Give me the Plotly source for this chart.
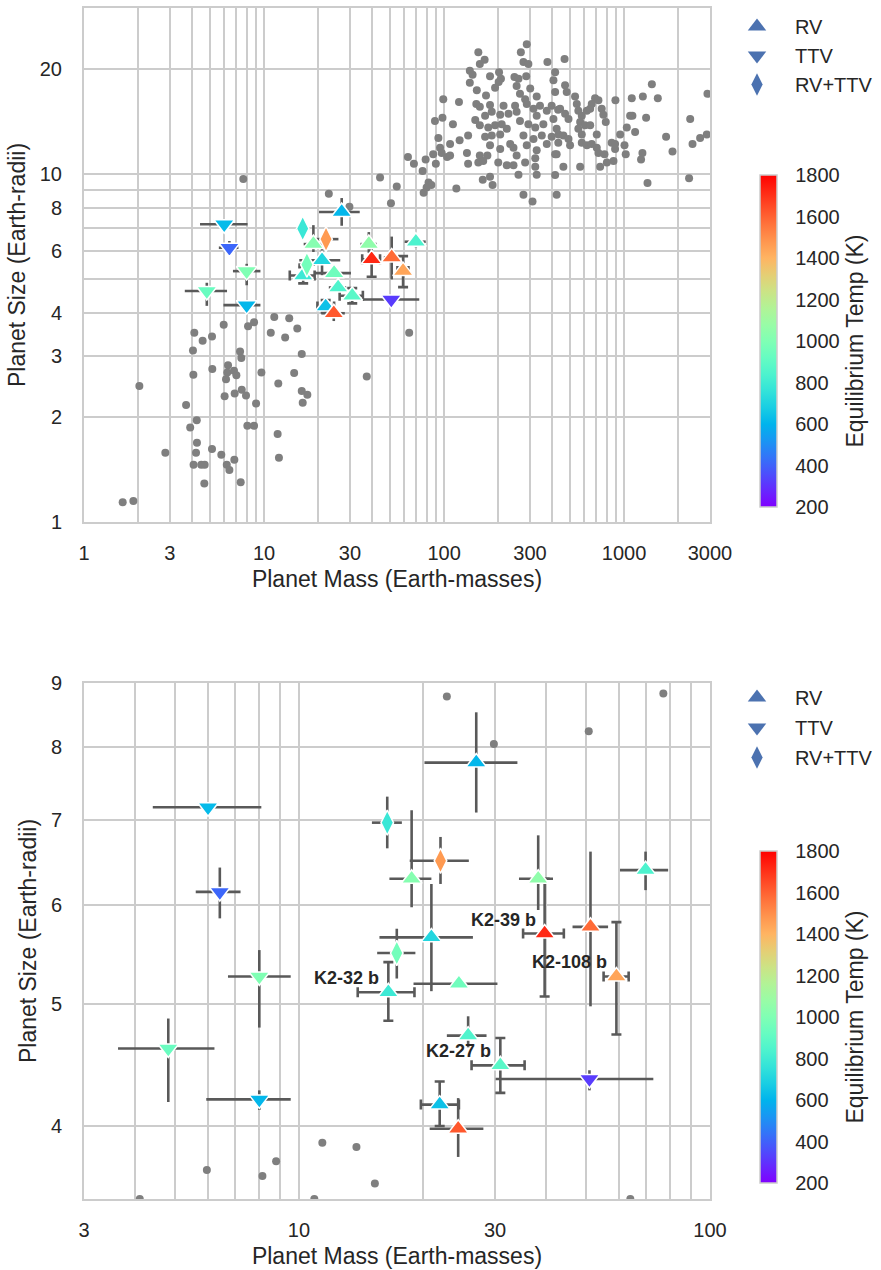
import math
import plotly.graph_objects as go

# ---------------- data ----------------
# background exoplanets (mass in Earth masses, radius in Earth radii)
bg_mass = [
    7.67, 5.97, 8.15, 8.8, 4.1, 5.14, 4.56, 4.03, 7.36, 7.48, 6.31, 5.16, 4.05, 6.25, 6.81, 7.02, 6.15, 9.67,
    2.03, 6.04, 6.87, 7.52, 7.94, 9.03, 3.69, 4.23, 3.89, 8.08, 8.8, 4.24, 2.83, 4.19, 5.14, 5.79, 6.84, 4.06,
    4.48, 4.68, 6.21, 6.42, 4.66, 7.42, 1.64, 1.88,
    44.1, 54.6, 22.9, 29.8, 50.7, 11.4, 13.8, 15.3, 10.9, 13.1, 16.2, 64.0, 14.7, 12.0, 37.2, 16.2, 17.4, 16.4,
    11.9, 12.1,
    288, 267, 155, 168, 158, 276, 294, 375, 414, 139, 144, 180, 202, 207, 201, 139, 246, 259, 286, 405,
    253, 192, 152, 171, 301, 327, 414, 99, 121, 264, 282, 151, 158, 180, 214, 248, 288, 341, 396, 430,
    149, 169, 184, 205, 228, 253, 314, 327, 372, 89, 98, 112, 158, 176, 192, 209, 223, 264, 294, 321,
    356, 405, 422, 93, 108, 122, 136, 169, 184, 205, 233, 276, 314, 349, 396, 431, 95, 87, 97, 104,
    108, 134, 158, 174, 180, 205, 243, 253, 288, 327, 372, 422, 63, 68, 79, 90, 136, 155, 165, 200,
    223, 243, 282, 321, 76, 259, 321, 327, 414, 180, 164, 186, 82, 85, 80, 77, 117, 276, 310, 422,
    467, 470, 480, 534, 546, 441, 470, 491, 557, 582, 621, 648, 690, 720, 661, 751, 767, 791, 570, 607,
    648, 557, 582, 432, 460, 491, 501, 705, 582, 621, 661, 705, 720, 778, 853, 891, 891, 951, 1005, 1021,
    414, 1035, 1080, 1151, 1112, 895, 1103, 1271, 1426, 1539, 1325, 1264, 1242, 873, 802, 736, 570, 460,
    1349, 1711, 1857, 2329, 2399, 2644, 2879, 2904, 2296,
]
bg_radius = [
    9.67, 3.69, 3.65, 3.75, 3.5, 3.41, 3.32, 3.11, 3.09, 2.96, 2.82, 2.75, 2.65, 2.69, 2.72, 2.64, 2.57, 2.69,
    2.46, 2.30, 2.34, 2.40, 2.31, 2.19, 2.17, 1.96, 1.87, 1.89, 1.89, 1.69, 1.58, 1.58, 1.62, 1.56, 1.51, 1.46,
    1.46, 1.46, 1.46, 1.41, 1.29, 1.30, 1.14, 1.15,
    9.78, 9.21, 8.78, 8.05, 8.24, 3.88, 3.85, 3.6, 3.5, 3.39, 3.04, 3.5, 2.68, 2.50, 2.62, 2.38, 2.32, 2.20,
    1.79, 1.53,
    23.6, 22.4, 22.4, 21.3, 20.7, 21.0, 20.7, 21.0, 19.6, 19.8, 19.3, 19.1, 19.6, 18.8, 18.4, 18.3, 19.0, 18.8, 19.1, 18.6,
    17.9, 17.7, 17.4, 16.8, 17.6, 16.7, 17.2, 16.4, 16.1, 17.0, 16.4, 15.9, 15.6, 15.8, 15.7, 15.7, 15.9, 15.7, 15.7, 15.3,
    14.3, 14.7, 15.1, 14.8, 14.9, 15.1, 15.4, 14.7, 15.2, 14.2, 14.5, 13.9, 13.8, 13.6, 13.8, 13.9, 13.5, 14.2, 13.9, 13.6,
    13.9, 14.4, 13.5, 12.7, 12.2, 12.5, 12.9, 12.8, 12.9, 13.0, 12.2, 12.9, 12.6, 12.9, 12.8, 12.3, 11.9, 11.4, 11.5, 11.2,
    11.3, 11.5, 11.3, 11.3, 12.1, 11.8, 11.9, 11.3, 12.1, 11.7, 12.2, 11.4, 11.2, 10.7, 11.0, 10.7, 10.7, 10.8, 10.9, 10.8,
    10.6, 10.6, 10.8, 11.1, 10.2, 9.96, 10.5, 9.96, 9.93, 9.82, 9.63, 9.30, 9.46, 9.30, 9.15, 8.83, 9.09, 8.72, 8.34, 8.72,
    21.4, 18.0, 17.2, 16.7, 15.9, 15.4, 14.9, 14.4, 15.2, 14.7, 15.2, 15.4, 16.5, 16.3, 15.9, 15.4, 14.8, 14.1, 14.1, 13.8,
    13.8, 13.5, 13.0, 13.0, 12.9, 12.6, 12.1, 13.0, 12.3, 12.1, 12.2, 11.9, 11.5, 11.4, 12.3, 12.2, 11.8, 13.0, 12.1, 11.4,
    11.4, 13.6, 14.7, 13.2, 14.7, 16.3, 16.5, 16.7, 18.1, 16.5, 14.5, 11.5, 11.0, 10.9, 10.8, 10.5, 10.5, 10.5,
    9.42, 12.8, 11.6, 14.4, 12.2, 12.7, 13.0, 17.0, 9.72,
]

# highlighted planets
pl_method = ["TTV", "TTV", "TTV", "TTV", "TTV", "RV+TTV", "RV+TTV", "RV+TTV", "RV", "RV", "RV", "RV",
             "RV", "RV", "RV", "RV", "TTV", "RV", "RV", "RV", "RV", "RV", "RV"]
pl_mass = [6.01, 6.42, 8.01, 4.81, 8.01, 16.4, 22.1, 17.3, 18.8, 21.0, 16.5, 24.5,
           25.8, 30.9, 22.0, 24.4, 50.9, 39.6, 51.2, 59.2, 38.2, 69.7, 27.0]
pl_mass_lo = [4.41, 5.61, 6.72, 3.63, 5.95, 15.05, 18.6, 15.5, 16.6, 15.7, 13.9, 19.0,
              22.9, 26.3, 19.8, 20.8, 30.1, 35.1, 46.3, 55.1, 34.3, 60.4, 20.2]
pl_mass_hi = [8.10, 7.21, 9.55, 6.23, 9.55, 17.8, 25.9, 19.2, 21.0, 26.5, 19.1, 30.4,
              28.6, 35.4, 24.5, 28.1, 72.8, 44.1, 56.5, 63.4, 41.5, 79.1, 34.0]
pl_radius = [7.17, 6.14, 5.26, 4.61, 4.20, 6.97, 6.50, 5.49, 6.29, 5.65, 5.11, 5.19,
             4.72, 4.47, 4.16, 3.98, 4.36, 5.69, 5.76, 5.26, 6.29, 6.39, 7.78]
pl_radius_lo = [7.12, 5.85, 4.79, 4.18, 4.12, 6.65, 6.23, 5.24, 5.97, 5.12, 4.85, 5.15,
                4.62, 4.25, 4.00, 3.78, 4.27, 5.07, 4.98, 4.73, 5.94, 6.16, 7.10]
pl_radius_hi = [7.22, 6.42, 5.52, 4.87, 4.27, 7.31, 6.79, 5.74, 7.13, 6.23, 5.40, 5.23,
                4.89, 4.70, 4.34, 4.21, 4.43, 6.29, 6.61, 5.81, 6.81, 6.61, 8.53]
pl_teq = [620, 410, 1000, 930, 610, 780, 1470, 960, 1020, 710, 790, 950,
          850, 880, 640, 1620, 320, 1720, 1580, 1440, 1050, 840, 610]
pl_label = ["", "", "", "", "", "", "", "", "", "", "K2-32 b", "",
            "", "K2-27 b", "", "", "", "K2-39 b", "", "K2-108 b", "", "", ""]
pl_caps = [False, False, False, False, False, False, False, False, False, False, True, False,
           False, True, True, False, False, True, False, True, False, False, False]

methods = ["RV", "TTV", "RV+TTV"]
temp_ticks = [200, 400, 600, 800, 1000, 1200, 1400, 1600, 1800]

top_x_ticks = [1, 2, 3, 4, 5, 6, 7, 8, 9, 10, 20, 30, 40, 50, 60, 70, 80, 90,
               100, 200, 300, 400, 500, 600, 700, 800, 900, 1000, 2000, 3000]
top_x_labels = ["1", "", "3", "", "", "", "", "", "", "10", "", "30", "", "", "", "", "", "",
                "100", "", "300", "", "", "", "", "", "", "1000", "", "3000"]
top_y_ticks = [1, 2, 3, 4, 5, 6, 7, 8, 9, 10, 20, 30]
top_y_labels = ["1", "2", "3", "4", "", "6", "", "8", "", "10", "20", ""]
bot_x_ticks = [3, 4, 5, 6, 7, 8, 9, 10, 20, 30, 40, 50, 60, 70, 80, 90, 100]
bot_x_labels = ["3", "", "", "", "", "", "", "10", "", "30", "", "", "", "", "", "", "100"]
bot_y_ticks = [4, 5, 6, 7, 8, 9]
bot_y_labels = ["4", "5", "6", "7", "8", "9"]

# ---------------- style ----------------
W, H = 881, 1270
FONT = "Arial, Liberation Sans, sans-serif"
TXT = "#262626"
GRID = "#cccccc"
SYMBOLS = {"RV": "triangle-up", "TTV": "triangle-down", "RV+TTV": "diamond-tall"}


def mpl_rainbow(t):
    r = min(1.0, max(0.0, abs(2 * t - 0.5)))
    g = min(1.0, max(0.0, math.sin(math.pi * t)))
    b = min(1.0, max(0.0, math.cos(math.pi * t / 2)))
    return f"rgb({round(255*r)},{round(255*g)},{round(255*b)})"


rainbow = [[i / 20, mpl_rainbow(i / 20)] for i in range(21)]

fig = go.Figure()
n = len(pl_mass)


def add_panel(xa, ya, cax, leg):
    fig.add_trace(go.Scatter(
        x=bg_mass, y=bg_radius, mode="markers", xaxis=xa, yaxis=ya,
        marker=dict(color="#7f7f7f", size=8, line=dict(width=0)),
        showlegend=False, hoverinfo="skip"))
    for capped in (False, True):
        idx = [i for i in range(n) if pl_caps[i] == capped]
        fig.add_trace(go.Scatter(
            x=[pl_mass[i] for i in idx], y=[pl_radius[i] for i in idx],
            mode="markers", xaxis=xa, yaxis=ya,
            marker=dict(size=1, color="rgba(0,0,0,0)"),
            error_x=dict(type="data", symmetric=False,
                         array=[pl_mass_hi[i] - pl_mass[i] for i in idx],
                         arrayminus=[pl_mass[i] - pl_mass_lo[i] for i in idx],
                         color="#595959", thickness=2.6, width=5 if capped else 0),
            error_y=dict(type="data", symmetric=False,
                         array=[pl_radius_hi[i] - pl_radius[i] for i in idx],
                         arrayminus=[pl_radius[i] - pl_radius_lo[i] for i in idx],
                         color="#595959", thickness=2.6, width=5 if capped else 0),
            showlegend=False, hoverinfo="skip"))
    for m in methods:
        idx = [i for i in range(n) if pl_method[i] == m]
        fig.add_trace(go.Scatter(
            x=[pl_mass[i] for i in idx], y=[pl_radius[i] for i in idx],
            mode="markers", xaxis=xa, yaxis=ya,
            marker=dict(symbol=SYMBOLS[m], size=18, color=[pl_teq[i] for i in idx],
                        coloraxis=cax, line=dict(color="white", width=1.5)),
            showlegend=False))
    for m in methods:
        fig.add_trace(go.Scatter(
            x=[None], y=[None], mode="markers", name=m, xaxis=xa, yaxis=ya,
            marker=dict(symbol=SYMBOLS[m], size=16, color="#4c72b0"),
            legend=leg, legendgroup=leg + m, showlegend=True))


add_panel("x", "y", "coloraxis", "legend")
add_panel("x2", "y2", "coloraxis2", "legend2")

for i in range(n):
    if pl_label[i]:
        fig.add_annotation(
            x=math.log10(pl_mass[i]), y=math.log10(pl_radius[i]), xref="x2", yref="y2",
            text=f"<b>{pl_label[i]}</b>", showarrow=False, xanchor="right", yanchor="middle",
            xshift=-7, yshift=14, font=dict(family=FONT, size=18, color=TXT))


def px_x(p):
    return p / W


def px_y(p):
    return 1 - p / H


axis_common = dict(
    type="log", showgrid=True, gridcolor=GRID, gridwidth=1.6, showline=True, linecolor=GRID,
    linewidth=2, mirror=True, zeroline=False, tickmode="array", ticks="outside",
    tickcolor="rgba(0,0,0,0)", tickfont=dict(family=FONT, size=20, color=TXT),
)


def cbar(ycenter):
    return dict(
        colorscale=rainbow, cmin=200, cmax=1800,
        colorbar=dict(
            x=px_x(760), xanchor="left", xpad=0, y=ycenter, yanchor="middle", ypad=0,
            len=332, lenmode="pixels", thickness=17, outlinecolor=GRID, outlinewidth=1.5,
            tickmode="array", tickvals=temp_ticks, ticks="outside", ticklen=14,
            tickcolor="rgba(0,0,0,0)", tickfont=dict(family=FONT, size=20, color=TXT),
            title=dict(text="Equilibrium Temp (K)", side="right",
                       font=dict(family=FONT, size=23, color=TXT)),
        ),
    )


fig.update_layout(
    width=W, height=H, autosize=False,
    margin=dict(l=0, r=0, t=0, b=0, autoexpand=False),
    paper_bgcolor="white", plot_bgcolor="white",
    font=dict(family=FONT, color=TXT),
    xaxis=dict(axis_common, domain=[px_x(84), px_x(710)], range=[0, math.log10(3000)],
               tickvals=top_x_ticks, ticktext=top_x_labels, ticklen=12, anchor="y",
               title=dict(text="Planet Mass (Earth-masses)", standoff=8,
                          font=dict(family=FONT, size=23, color=TXT))),
    yaxis=dict(axis_common, domain=[px_y(522), px_y(8)], range=[0, math.log10(30)],
               tickvals=top_y_ticks, ticktext=top_y_labels, ticklen=16, anchor="x",
               title=dict(text="Planet Size (Earth-radii)", standoff=8,
                          font=dict(family=FONT, size=23, color=TXT))),
    xaxis2=dict(axis_common, domain=[px_x(84), px_x(710)], range=[math.log10(3), 2],
                tickvals=bot_x_ticks, ticktext=bot_x_labels, ticklen=12, anchor="y2",
                title=dict(text="Planet Mass (Earth-masses)", standoff=8,
                           font=dict(family=FONT, size=23, color=TXT))),
    yaxis2=dict(axis_common, domain=[px_y(1199), px_y(683)],
                range=[math.log10(3.5), math.log10(9)],
                tickvals=bot_y_ticks, ticktext=bot_y_labels, ticklen=16, anchor="x2",
                title=dict(text="Planet Size (Earth-radii)", standoff=8,
                           font=dict(family=FONT, size=23, color=TXT))),
    coloraxis=cbar(px_y(341)),
    coloraxis2=cbar(px_y(1017)),
    legend=dict(x=px_x(719), y=px_y(7), xanchor="left", yanchor="top",
                bgcolor="rgba(0,0,0,0)", font=dict(family=FONT, size=20, color=TXT),
                tracegroupgap=0, itemwidth=66),
    legend2=dict(x=px_x(719), y=px_y(678), xanchor="left", yanchor="top",
                 bgcolor="rgba(0,0,0,0)", font=dict(family=FONT, size=20, color=TXT),
                 tracegroupgap=1, itemwidth=66),
    showlegend=True,
)

fig.write_html("out.html")
